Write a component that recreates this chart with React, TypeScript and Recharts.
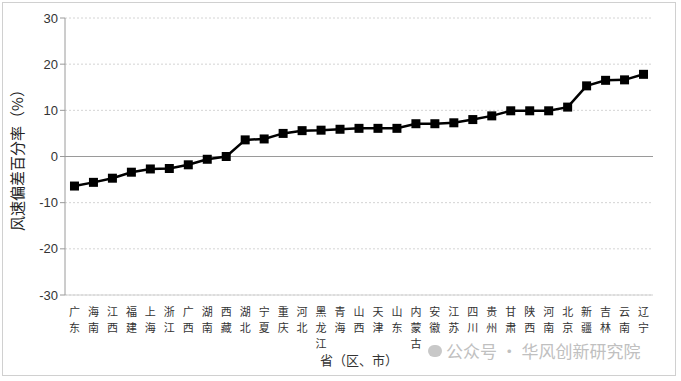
import { LineChart, Line, XAxis, YAxis, CartesianGrid, ReferenceLine } from "recharts";

const provinces = [
  "广东", "海南", "江西", "福建", "上海", "浙江", "广西", "湖南", "西藏", "湖北", "宁夏",
  "重庆", "河北", "黑龙江", "青海", "山西", "天津", "山东", "内蒙古", "安徽", "江苏", "四川",
  "贵州", "甘肃", "陕西", "河南", "北京", "新疆", "吉林", "云南", "辽宁",
];

const deviation = [
  -6.4, -5.6, -4.7, -3.4, -2.7, -2.6, -1.8, -0.6, 0.0, 3.6, 3.8,
  5.0, 5.6, 5.7, 5.9, 6.1, 6.1, 6.1, 7.1, 7.1, 7.3, 8.0,
  8.8, 9.9, 9.9, 9.9, 10.7, 15.3, 16.5, 16.6, 17.8,
];

const yTicks = [-30, -20, -10, 0, 10, 20, 30];

const data = provinces.map((name, i) => ({ name, value: deviation[i] }));

const cjk = "'Noto Sans CJK SC', sans-serif";

// stacked characters, one text per character
const VerticalTick = (props: any) => {
  const { x, y, payload } = props;
  const chars = String(payload.value).split("");
  return (
    <g>
      {chars.map((c, i) => (
        <text key={i} x={x} y={y + 13 + i * 16} textAnchor="middle" fontSize={11} fill="#333" fontFamily={cjk}>
          {c}
        </text>
      ))}
    </g>
  );
};

const SquareDot = (props: any) => {
  const { cx, cy } = props;
  if (cx == null || cy == null) return null;
  return <rect x={cx - 4.5} y={cy - 4.5} width={9} height={9} fill="#000" />;
};

export default function App() {
  return (
    <div style={{ position: "absolute", left: 0, top: 0, width: 681, height: 381, background: "#fff" }}>
      <div style={{ position: "absolute", left: 2, top: 2, width: 672, height: 372, border: "1px solid #d0d0d0" }} />
      <LineChart width={681} height={381} data={data} margin={{ top: 18, right: 28, left: 0, bottom: 0 }}>
        <CartesianGrid vertical={false} stroke="#d4d4d4" strokeDasharray="2 2" />
        <XAxis
          dataKey="name"
          scale="band"
          interval={0}
          height={86}
          tick={<VerticalTick />}
          tickLine={false}
          axisLine={{ stroke: "#d0d0d0" }}
          label={{ value: "省（区、市）", position: "insideBottom", offset: 16, fontSize: 13, fill: "#333", fontFamily: cjk }}
        />
        <YAxis
          width={65}
          domain={[-30, 30]}
          ticks={yTicks}
          tickSize={5}
          tick={{ fontSize: 13, fill: "#333", fontFamily: "'Liberation Sans', Arial, sans-serif" }}
          axisLine={{ stroke: "#9a9a9a" }}
          tickLine={{ stroke: "#9a9a9a" }}
          label={{ value: "风速偏差百分率（%）", angle: -90, position: "insideLeft", offset: 18, fontSize: 15, fill: "#222", fontFamily: cjk, style: { textAnchor: "middle" } }}
        />
        <ReferenceLine y={0} stroke="#9a9a9a" />
        <Line
          dataKey="value"
          stroke="#000"
          strokeWidth={2.5}
          dot={<SquareDot />}
          activeDot={false}
          isAnimationActive={false}
        />
      </LineChart>
      <div style={{ position: "absolute", left: 428, top: 338, fontFamily: cjk, fontSize: 17, color: "#c0c0c0", whiteSpace: "nowrap", display: "flex", alignItems: "center" }}>
        <span style={{ display: "inline-block", width: 14, height: 12, borderRadius: 7, background: "#c8c8c8", marginRight: 4 }} />
        公众号 · 华风创新研究院
      </div>
    </div>
  );
}
